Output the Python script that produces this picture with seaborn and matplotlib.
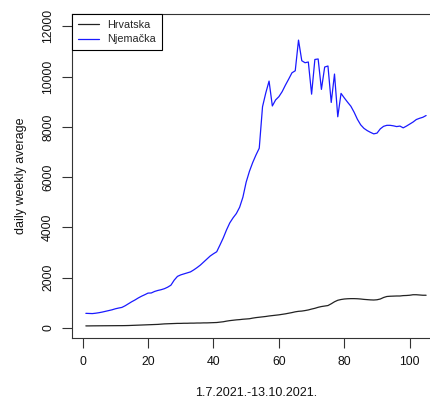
# Weekly average of daily cases, Hrvatska vs Njemacka, R base-plot look.
import seaborn as sns
import matplotlib.pyplot as plt
import pandas as pd
import numpy as np
import matplotlib
matplotlib.use('Agg')

days = list(range(1, 106))

hrvatska = [80, 80, 82, 83, 84, 85, 86, 87, 88, 89,
            90, 90, 92, 95, 100, 105, 110, 115, 120, 125,
            130, 135, 140, 150, 160, 165, 170, 175, 180, 180,
            185, 185, 190, 190, 195, 195, 200, 200, 205, 210,
            215, 230, 245, 270, 290, 305, 320, 330, 345, 355,
            365, 390, 410, 425, 440, 455, 475, 490, 505, 520,
            540, 560, 585, 610, 640, 660, 670, 690, 715, 750,
            780, 820, 850, 870, 890, 960, 1040, 1100, 1130, 1150,
            1160, 1165, 1165, 1160, 1150, 1135, 1125, 1115, 1110, 1120,
            1150, 1210, 1250, 1260, 1265, 1270, 1270, 1285, 1290, 1300,
            1320, 1320, 1310, 1300, 1300]

njemacka = [580, 575, 570, 585, 605, 630, 660, 690, 720, 760,
            790, 815, 880, 960, 1040, 1110, 1190, 1260, 1320, 1385,
            1390, 1450, 1490, 1520, 1560, 1620, 1700, 1900, 2050, 2110,
            2150, 2190, 2230, 2310, 2400, 2500, 2620, 2740, 2860, 2950,
            3030, 3300, 3580, 3900, 4180, 4380, 4550, 4800, 5200, 5800,
            6230, 6580, 6880, 7150, 8800, 9350, 9820, 8830, 9070, 9200,
            9400, 9660, 9900, 10150, 10230, 11450, 10630, 10550, 10580, 9300,
            10680, 10700, 9490, 10380, 10420, 8970, 10100, 8400, 9330, 9150,
            8980, 8820, 8580, 8300, 8080, 7940, 7850, 7780, 7720, 7750,
            7920, 8020, 8060, 8060, 8040, 8010, 8030, 7960, 8030, 8110,
            8190, 8290, 8340, 8380, 8450]

x_ticks = [0, 20, 40, 60, 80, 100]
y_ticks = [0, 2000, 4000, 6000, 8000, 10000, 12000]

df = pd.DataFrame({
    "dan": days * 2,
    "prosjek": hrvatska + njemacka,
    "drzava": ["Hrvatska"] * len(days) + ["Njemačka"] * len(days),
})

sns.set_style("ticks")
plt.rcParams['font.family'] = ['Liberation Sans', 'DejaVu Sans']

fig = plt.figure(figsize=(4.30, 4.03), dpi=100)
ax = fig.add_axes([0.168, 0.162, 0.8546, 0.803])

sns.lineplot(data=df, x="dan", y="prosjek", hue="drzava",
             palette={"Hrvatska": "#222222", "Njemačka": "#1a1aff"},
             linewidth=0.9, ax=ax)

ax.set_xlim(-3.16, 109.16)
ax.set_ylim(-390, 12485)
ax.set_xticks(x_ticks)
ax.set_yticks(y_ticks)
ax.set_yticklabels([str(v) for v in y_ticks], rotation=90, va='center')
ax.tick_params(axis='both', labelsize=8.8, length=7, width=0.8,
               color='#333333', labelcolor='#111111', pad=6)

for side in ["left", "bottom", "top", "right"]:
    ax.spines[side].set_color('#333333')
    ax.spines[side].set_linewidth(0.8)

ax.set_xlabel("1.7.2021.-13.10.2021.", fontsize=9, labelpad=14, color='#111111')
ax.set_ylabel("daily weekly average", fontsize=9, labelpad=11, color='#111111')

leg = ax.legend(loc='upper left', borderaxespad=0, fancybox=False,
                edgecolor='black', framealpha=1, fontsize=7.8,
                handlelength=1.9, handletextpad=0.8, borderpad=0.55,
                labelspacing=0.4, title=None)
leg.get_frame().set_linewidth(0.8)

fig.savefig("out.png", dpi=100)
